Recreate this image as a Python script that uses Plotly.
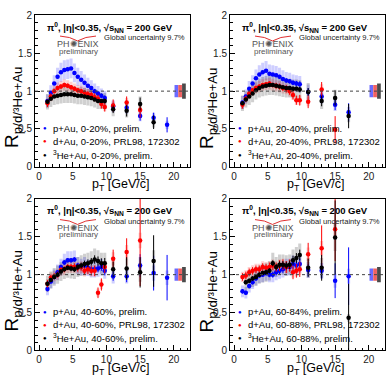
import plotly.graph_objects as go
from plotly.subplots import make_subplots

W, H = 389, 379

# ---------------- data ----------------
PT_LOW = [1.25, 1.75, 2.25, 2.75, 3.25, 3.75, 4.25, 4.75, 5.25,
          5.75, 6.25, 6.75, 7.25, 7.75, 8.25, 8.75, 9.25, 9.75]

# panel 1: 0-20%
PT_P_1 = PT_LOW + [11, 13, 15, 17, 19]
R_P_1 = [0.87, 0.98, 1.10, 1.19, 1.25, 1.28, 1.29, 1.30, 1.24, 1.19, 1.15, 1.11, 1.07, 1.04, 1.00, 0.97, 0.94, 0.91,
         0.80, 0.78, 0.67, 0.65, 0.555]
E_P_1 = [0.02, 0.02, 0.02, 0.02, 0.02, 0.02, 0.02, 0.02, 0.02, 0.02, 0.02, 0.02, 0.025, 0.025, 0.03, 0.03, 0.03, 0.035,
         0.04, 0.05, 0.06, 0.065, 0.10]
PT_D_1 = PT_LOW + [11, 13, 15]
R_D_1 = [0.84, 0.93, 1.00, 1.04, 1.06, 1.08, 1.07, 1.05, 1.03, 1.01, 1.00, 0.98, 0.96, 0.95, 0.92, 0.90, 0.83, 0.79,
         0.81, 0.85, 0.75]
E_D_1 = [0.05, 0.04, 0.03, 0.03, 0.03, 0.03, 0.03, 0.03, 0.03, 0.03, 0.03, 0.03, 0.04, 0.04, 0.05, 0.05, 0.06, 0.06,
         0.08, 0.08, 0.10]
PT_H_1 = PT_LOW + [11, 13, 15, 17]
R_H_1 = [0.86, 0.90, 0.93, 0.94, 0.95, 0.96, 0.96, 0.96, 0.95, 0.94, 0.94, 0.93, 0.92, 0.91, 0.89, 0.87, 0.87, 0.87,
         0.76, 0.74, 0.83, 0.59]
E_H_1 = [0.02, 0.015, 0.015, 0.015, 0.015, 0.015, 0.015, 0.015, 0.015, 0.015, 0.015, 0.015, 0.02, 0.02, 0.02, 0.025, 0.025, 0.03,
         0.05, 0.075, 0.085, 0.09]

# panel 2: 20-40%
PT_P_2 = PT_LOW + [11, 13, 15, 17]
R_P_2 = [0.85, 0.93, 1.03, 1.10, 1.17, 1.22, 1.25, 1.27, 1.23, 1.22, 1.21, 1.19, 1.16, 1.14, 1.13, 1.11, 1.10, 1.09,
         0.99, 0.93, 0.82, 0.72]
E_P_2 = [0.02, 0.02, 0.02, 0.02, 0.02, 0.02, 0.02, 0.02, 0.02, 0.02, 0.02, 0.025, 0.025, 0.03, 0.03, 0.03, 0.035, 0.04,
         0.05, 0.06, 0.07, 0.12]
PT_D_2 = PT_LOW + [11, 13, 15]
R_D_2 = [0.82, 0.90, 0.97, 1.01, 1.04, 1.06, 1.08, 1.09, 1.10, 1.08, 1.07, 1.06, 1.04, 1.03, 1.00, 0.95, 0.88, 0.88,
         0.86, 1.02, 0.49]
E_D_2 = [0.05, 0.04, 0.03, 0.03, 0.03, 0.03, 0.03, 0.03, 0.03, 0.03, 0.04, 0.04, 0.04, 0.05, 0.05, 0.06, 0.06, 0.07,
         0.085, 0.10, 0.18]
PT_H_2 = PT_LOW + [11, 13, 15, 17]
R_H_2 = [0.84, 0.89, 0.93, 0.97, 1.01, 1.04, 1.06, 1.07, 1.08, 1.08, 1.07, 1.06, 1.05, 1.04, 1.04, 1.03, 1.03, 1.02,
         0.99, 0.87, 0.91, 0.67]
E_H_2 = [0.02, 0.015, 0.015, 0.015, 0.015, 0.015, 0.015, 0.015, 0.015, 0.02, 0.02, 0.02, 0.02, 0.025, 0.025, 0.03, 0.03, 0.035,
         0.05, 0.07, 0.10, 0.16]

# panel 3: 40-60%
PT_P_3 = PT_LOW + [11, 13, 15, 17, 19]
R_P_3 = [0.81, 0.91, 0.97, 1.03, 1.10, 1.16, 1.19, 1.19, 1.20, 1.12, 1.10, 1.12, 1.09, 1.07, 1.07, 1.08, 1.10, 1.05,
         0.98, 0.98, 1.12, 1.02, 0.96]
E_P_3 = [0.03, 0.03, 0.03, 0.03, 0.03, 0.03, 0.03, 0.03, 0.03, 0.035, 0.035, 0.04, 0.04, 0.04, 0.045, 0.05, 0.05, 0.06,
         0.06, 0.08, 0.15, 0.23, 0.30]
PT_D_3 = PT_LOW + [11, 13, 15]
R_D_3 = [0.88, 0.96, 0.98, 1.00, 1.06, 1.07, 1.10, 1.10, 1.10, 1.09, 1.10, 1.05, 1.07, 1.05, 1.05, 0.76, 0.87, 1.10,
         1.21, 1.30, 1.45]
E_D_3 = [0.05, 0.04, 0.04, 0.04, 0.04, 0.04, 0.04, 0.04, 0.05, 0.05, 0.05, 0.05, 0.06, 0.06, 0.07, 0.07, 0.08, 0.08,
         0.12, 0.18, 0.60]
PT_H_3 = PT_LOW + [11, 13, 15, 17]
R_H_3 = [0.88, 0.93, 0.97, 1.00, 1.04, 1.07, 1.09, 1.08, 1.07, 1.10, 1.12, 1.14, 1.15, 1.17, 1.20, 1.18, 1.15, 1.15,
         1.07, 1.08, 1.03, 1.18]
E_H_3 = [0.03, 0.03, 0.03, 0.03, 0.03, 0.03, 0.03, 0.035, 0.035, 0.04, 0.04, 0.045, 0.05, 0.05, 0.055, 0.06, 0.065, 0.07,
         0.10, 0.15, 0.20, 0.34]

# panel 4: 60-84% / 60-88%
PT_P_4 = PT_LOW + [11, 13, 15, 17]
R_P_4 = [0.78, 0.76, 0.85, 0.90, 0.95, 0.99, 1.00, 1.02, 1.00, 1.00, 1.03, 1.05, 1.07, 1.10, 1.10, 1.14, 1.12, 1.14,
         1.06, 1.05, 0.92, 0.98]
E_P_4 = [0.03, 0.03, 0.03, 0.03, 0.03, 0.03, 0.03, 0.035, 0.035, 0.04, 0.04, 0.045, 0.05, 0.05, 0.055, 0.06, 0.065, 0.07,
         0.08, 0.10, 0.23, 0.38]
PT_D_4 = PT_LOW + [11, 13, 15]
R_D_4 = [0.97, 0.99, 1.03, 1.05, 1.07, 1.07, 1.10, 1.09, 1.10, 1.12, 1.10, 1.12, 1.13, 1.10, 1.12, 1.03, 1.05, 1.07,
         1.27, 1.35, 1.60]
E_D_4 = [0.05, 0.05, 0.05, 0.05, 0.05, 0.05, 0.05, 0.05, 0.06, 0.06, 0.06, 0.07, 0.07, 0.08, 0.08, 0.09, 0.09, 0.10,
         0.15, 0.30, 0.42]
PT_H_4 = PT_LOW[1:] + [11, 13, 15, 17]
R_H_4 = [0.90, 0.92, 0.95, 0.97, 1.00, 1.02, 1.03, 1.05, 1.15, 1.10, 1.13, 1.13, 1.12, 1.13, 1.19, 1.22, 1.26,
         1.09, 1.09, 1.49, 0.43]
E_H_4 = [0.03, 0.03, 0.03, 0.03, 0.03, 0.03, 0.035, 0.035, 0.04, 0.04, 0.045, 0.05, 0.05, 0.055, 0.06, 0.065, 0.07,
         0.12, 0.17, 0.49, 0.45]

# relative systematic uncertainty (box half-height) per system
SYS_REL = {"p": 0.10, "d": 0.07, "h": 0.12}
# global normalisation uncertainty boxes at R=1
GLOBAL_X = {"p": 20.38, "d": 20.93, "h": 21.5}
GLOBAL_UNC = {"p": 0.08, "d": 0.08, "h": 0.10}

LEG_P = ["p+Au, 0-20%, prelim.", "p+Au, 20-40%, prelim.", "p+Au, 40-60%, prelim.", "p+Au, 60-84%, prelim."]
LEG_D = ["d+Au, 0-20%, PRL98, 172302", "d+Au, 20-40%, PRL98, 172302",
         "d+Au, 40-60%, PRL98, 172302", "d+Au, 60-88%, PRL98, 172302"]
LEG_H = ["<sup>3</sup>He+Au, 0-20%, prelim.", "<sup>3</sup>He+Au, 20-40%, prelim.",
         "<sup>3</sup>He+Au, 40-60%, prelim.", "<sup>3</sup>He+Au, 60-88%, prelim."]

PANELS = [
    {"p": (PT_P_1, R_P_1, E_P_1), "d": (PT_D_1, R_D_1, E_D_1), "h": (PT_H_1, R_H_1, E_H_1)},
    {"p": (PT_P_2, R_P_2, E_P_2), "d": (PT_D_2, R_D_2, E_D_2), "h": (PT_H_2, R_H_2, E_H_2)},
    {"p": (PT_P_3, R_P_3, E_P_3), "d": (PT_D_3, R_D_3, E_D_3), "h": (PT_H_3, R_H_3, E_H_3)},
    {"p": (PT_P_4, R_P_4, E_P_4), "d": (PT_D_4, R_D_4, E_D_4), "h": (PT_H_4, R_H_4, E_H_4)},
]

# ---------------- style ----------------
FONT = "Liberation Sans, Arial, Helvetica, sans-serif"
PT_COL = {"p": "#0000ff", "d": "#ff0000", "h": "#000000"}
BOX_COL = {"p": "rgba(60,60,255,0.25)", "d": "rgba(255,40,40,0.22)", "h": "rgba(40,40,40,0.22)"}
GLOB_COL = {"p": "#6b6bff", "d": "#f06060", "h": "#4a4a4a"}

fig = make_subplots(rows=2, cols=2)

def px_x(x):
    return x / W

def px_y(y):
    return 1 - y / H

# panel frames in pixels (left, top, right, bottom)
FRAMES = [(35, 10.7, 190, 166.7), (230, 10.7, 385, 166.7),
          (35, 199.7, 190, 355.7), (230, 199.7, 385, 355.7)]
OFFS = [(0, 0), (195, 0), (0, 189), (195, 189)]

for i, pan in enumerate(PANELS):
    r, c = i // 2 + 1, i % 2 + 1
    for key in ["p", "d", "h"]:
        x, y, e = pan[key]
        s = SYS_REL[key]
        fig.add_trace(go.Bar(x=x, y=[2 * s * v for v in y], base=[v - s * v for v in y],
                             width=0.45, marker=dict(color=BOX_COL[key], line=dict(width=0)),
                             showlegend=False, hoverinfo="skip"), row=r, col=c)
    for key in ["p", "d", "h"]:
        g = GLOBAL_UNC[key]
        fig.add_trace(go.Bar(x=[GLOBAL_X[key]], y=[2 * g], base=[1 - g], width=0.55,
                             marker=dict(color=GLOB_COL[key], line=dict(width=0)),
                             showlegend=False, hoverinfo="skip"), row=r, col=c)
    for key in ["p", "d", "h"]:
        x, y, e = pan[key]
        fig.add_trace(go.Scatter(x=x, y=y, mode="markers",
                                 marker=dict(color=PT_COL[key], size=4.5, symbol="circle"),
                                 error_y=dict(type="data", array=e, color=PT_COL[key], thickness=1, width=0),
                                 showlegend=False), row=r, col=c)
    fig.add_hline(y=1, line=dict(color="#444444", width=1, dash="dot"), row=r, col=c)

annos = []
shapes = []
for i in range(4):
    dx, dy = OFFS[i]
    L, T, R_, B = FRAMES[i]
    xa = "xaxis" if i == 0 else f"xaxis{i+1}"
    ya = "yaxis" if i == 0 else f"yaxis{i+1}"
    fig.layout[xa].domain = [px_x(L), px_x(R_)]
    fig.layout[ya].domain = [px_y(B), px_y(T)]

    def A(x, y, text, size, xanchor="left", color="#000", **kw):
        annos.append(dict(x=px_x(x + dx), y=px_y(y + dy), xref="paper", yref="paper", text=text,
                          showarrow=False, xanchor=xanchor, yanchor="middle",
                          font=dict(family=FONT, size=size, color=color), **kw))

    A(45, 23, "<b>π<sup>0</sup>, |η|&lt;0.35, √s<sub>NN</sub> = 200 GeV</b>", 9.5)
    A(187, 33.5, "Global uncertainty 9.7%", 7.6, xanchor="right", color="#222")
    A(78, 40.5, "PH✺ENIX", 9, xanchor="center", color="#555")
    A(78, 47.5, "preliminary", 8, xanchor="center", color="#555")
    for j, (key, txt) in enumerate([("p", LEG_P[i]), ("d", LEG_D[i]), ("h", LEG_H[i])]):
        yy = 127 + 13.5 * j
        A(44.5, yy, "●", 6, xanchor="center", color=PT_COL[key])
        A(51, yy, txt, 9.5)
    A(120, 185.5, "p<sub>T</sub> [GeV/c]", 12.5, xanchor="center")
    annos.append(dict(x=px_x(13 + dx), y=px_y(106 + dy), xref="paper", yref="paper",
                      text="R<sub>p/d/³He+Au</sub>", showarrow=False, textangle=-90,
                      xanchor="center", yanchor="middle", font=dict(family=FONT, size=19, color="#000")))
    x0, x1, xm = 60 + dx, 96 + dx, 77.5 + dx
    ya0, yam = 32 + dy, 37 + dy
    path = (f"M {px_x(x0)},{px_y(ya0)} Q {px_x(70 + dx)},{px_y(32.5 + dy)} {px_x(xm)},{px_y(yam)} "
            f"Q {px_x(85 + dx)},{px_y(32.5 + dy)} {px_x(x1)},{px_y(ya0)}")
    shapes.append(dict(type="path", path=path, xref="paper", yref="paper",
                       line=dict(color="#e03030", width=1)))

for i in range(4):
    xa = "xaxis" if i == 0 else f"xaxis{i+1}"
    ya = "yaxis" if i == 0 else f"yaxis{i+1}"
    fig.layout[xa].update(range=[-0.6, 22.4], tick0=0, dtick=5, ticks="inside", ticklen=5,
                          tickcolor="#000", minor=dict(dtick=1, ticks="inside", ticklen=2.5, tickcolor="#000"),
                          showline=True, linecolor="#000", linewidth=1, mirror=True,
                          showgrid=False, zeroline=False,
                          tickfont=dict(family=FONT, size=10, color="#222"))
    fig.layout[ya].update(range=[0, 2], tick0=0, dtick=0.5, ticks="inside", ticklen=5,
                          tickcolor="#000", minor=dict(dtick=0.1, ticks="inside", ticklen=2.5, tickcolor="#000"),
                          showline=True, linecolor="#000", linewidth=1, mirror=True,
                          showgrid=False, zeroline=False,
                          tickfont=dict(family=FONT, size=10, color="#222"))

fig.update_layout(width=W, height=H, margin=dict(l=0, r=0, t=0, b=0),
                  paper_bgcolor="white", plot_bgcolor="white", barmode="overlay",
                  annotations=annos, shapes=list(fig.layout.shapes) + shapes, showlegend=False,
                  font=dict(family=FONT))

fig.write_html("out.html")
